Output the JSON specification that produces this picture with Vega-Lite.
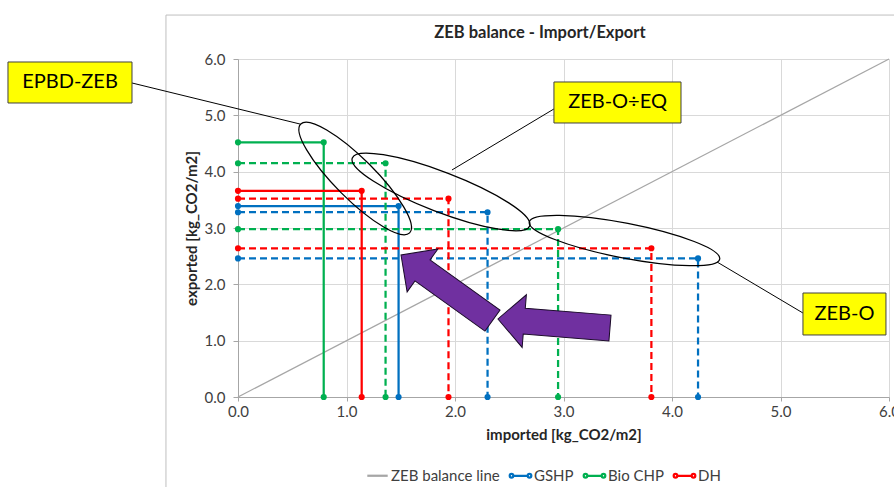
{
  "$schema": "https://vega.github.io/schema/vega-lite/v6.json",
  "width": 651,
  "height": 338,
  "autosize": {"type": "none"},
  "padding": {"left": 238, "top": 59, "right": 5, "bottom": 90},
  "background": "white",
  "datasets": {
    "series": [
      {"s": "GSHP", "c": "GSHP-1", "d": "solid", "o": 1, "x": 0, "y": 3.39},
      {"s": "GSHP", "c": "GSHP-1", "d": "solid", "o": 2, "x": 1.48, "y": 3.39},
      {"s": "GSHP", "c": "GSHP-1", "d": "solid", "o": 3, "x": 1.48, "y": 0},
      {"s": "GSHP", "c": "GSHP-2", "d": "dashed", "o": 1, "x": 0, "y": 3.28},
      {"s": "GSHP", "c": "GSHP-2", "d": "dashed", "o": 2, "x": 2.3, "y": 3.28},
      {"s": "GSHP", "c": "GSHP-2", "d": "dashed", "o": 3, "x": 2.3, "y": 0},
      {"s": "GSHP", "c": "GSHP-3", "d": "dashed", "o": 1, "x": 0, "y": 2.46},
      {"s": "GSHP", "c": "GSHP-3", "d": "dashed", "o": 2, "x": 4.24, "y": 2.46},
      {"s": "GSHP", "c": "GSHP-3", "d": "dashed", "o": 3, "x": 4.24, "y": 0},
      {"s": "Bio CHP", "c": "Bio-1", "d": "solid", "o": 1, "x": 0, "y": 4.52},
      {"s": "Bio CHP", "c": "Bio-1", "d": "solid", "o": 2, "x": 0.79, "y": 4.52},
      {"s": "Bio CHP", "c": "Bio-1", "d": "solid", "o": 3, "x": 0.79, "y": 0},
      {"s": "Bio CHP", "c": "Bio-2", "d": "dashed", "o": 1, "x": 0, "y": 4.15},
      {"s": "Bio CHP", "c": "Bio-2", "d": "dashed", "o": 2, "x": 1.36, "y": 4.15},
      {"s": "Bio CHP", "c": "Bio-2", "d": "dashed", "o": 3, "x": 1.36, "y": 0},
      {"s": "Bio CHP", "c": "Bio-3", "d": "dashed", "o": 1, "x": 0, "y": 2.98},
      {"s": "Bio CHP", "c": "Bio-3", "d": "dashed", "o": 2, "x": 2.95, "y": 2.98},
      {"s": "Bio CHP", "c": "Bio-3", "d": "dashed", "o": 3, "x": 2.95, "y": 0},
      {"s": "DH", "c": "DH-1", "d": "solid", "o": 1, "x": 0, "y": 3.66},
      {"s": "DH", "c": "DH-1", "d": "solid", "o": 2, "x": 1.14, "y": 3.66},
      {"s": "DH", "c": "DH-1", "d": "solid", "o": 3, "x": 1.14, "y": 0},
      {"s": "DH", "c": "DH-2", "d": "dashed", "o": 1, "x": 0, "y": 3.52},
      {"s": "DH", "c": "DH-2", "d": "dashed", "o": 2, "x": 1.94, "y": 3.52},
      {"s": "DH", "c": "DH-2", "d": "dashed", "o": 3, "x": 1.94, "y": 0},
      {"s": "DH", "c": "DH-3", "d": "dashed", "o": 1, "x": 0, "y": 2.64},
      {"s": "DH", "c": "DH-3", "d": "dashed", "o": 2, "x": 3.81, "y": 2.64},
      {"s": "DH", "c": "DH-3", "d": "dashed", "o": 3, "x": 3.81, "y": 0}
    ]
  },
  "encoding": {
    "x": {"field": "x", "type": "quantitative", "scale": {"domain": [0, 6], "nice": false, "zero": false},
      "axis": {"title": "imported [kg_CO2/m2]", "values": [0, 1, 2, 3, 4, 5, 6], "format": ".1f", "labelFlush": false, "grid": true, "gridColor": "#d9d9d9", "domainColor": "#a6a6a6", "tickColor": "#a6a6a6", "tickSize": 4, "labelPadding": 3, "labelFontSize": 15, "labelColor": "#404040", "labelFont": "Lato", "titleFont": "Lato", "titleFontSize": 15, "titleFontWeight": "bold", "titleColor": "#262626", "titlePadding": 8}},
    "y": {"field": "y", "type": "quantitative", "scale": {"domain": [0, 6], "nice": false, "zero": false},
      "axis": {"title": "exported [kg_CO2/m2]", "values": [0, 1, 2, 3, 4, 5, 6], "format": ".1f", "labelFlush": false, "grid": true, "gridColor": "#d9d9d9", "domainColor": "#a6a6a6", "tickColor": "#a6a6a6", "tickSize": 5, "labelPadding": 8, "labelFontSize": 15, "labelColor": "#404040", "labelFont": "Lato", "titleFont": "Lato", "titleFontSize": 15, "titleFontWeight": "bold", "titleColor": "#262626", "titlePadding": 5}}
  },
  "resolve": {"legend": {"color": "independent", "shape": "independent"}},
  "layer": [
    {
      "data": {"values": [{"x": -0.664, "x2": 7, "y": 6.78, "y2": -3}]},
      "mark": {"type": "rect", "filled": false, "color": "#bfbfbf", "strokeWidth": 1},
      "encoding": {"x2": {"field": "x2"}, "y2": {"field": "y2"}}
    },
    {
      "data": {"values": [{"t": "ZEB balance - Import/Export", "x": 2.783, "y": 6.46}]},
      "mark": {"type": "text", "font": "Lato", "fontSize": 16.5, "fontWeight": "bold", "color": "#262626", "align": "center", "baseline": "middle"},
      "encoding": {"text": {"field": "t"}}
    },
    {
      "data": {"values": [{"s": "ZEB balance line", "x": 0, "y": 0}, {"s": "ZEB balance line", "x": 6, "y": 6}]},
      "mark": {"type": "line", "color": "#a6a6a6", "strokeWidth": 1.25},
      "encoding": {}
    },
    {
      "data": {"name": "series"},
      "mark": {"type": "line", "strokeWidth": 2.25},
      "encoding": {
        "color": {"field": "s", "type": "nominal", "scale": {"domain": ["ZEB balance line", "GSHP", "Bio CHP", "DH"], "range": ["#a6a6a6", "#0070c0", "#00b050", "#ff0000"]}, "legend": null},
        "strokeDash": {"field": "d", "type": "nominal", "scale": {"domain": ["solid", "dashed"], "range": [[1, 0], [7, 4]]}, "legend": null},
        "detail": {"field": "c"},
        "order": {"field": "o"}
      }
    },
    {
      "data": {"name": "series"},
      "mark": {"type": "point", "filled": true, "size": 38, "opacity": 1},
      "encoding": {
        "color": {"field": "s", "type": "nominal", "legend": null}
      }
    },
    {
      "data": {"values": [{"s": "ZEB balance line", "x": -10, "y": -10}, {"s": "GSHP", "x": -10, "y": -10}, {"s": "Bio CHP", "x": -10, "y": -10}, {"s": "DH", "x": -10, "y": -10}]},
      "mark": {"type": "point", "filled": false, "opacity": 1, "clip": true, "strokeWidth": 2.25},
      "encoding": {
        "color": {"field": "s", "type": "nominal", "legend": {"title": null, "orient": "none", "legendX": 126, "legendY": 403, "direction": "horizontal", "symbolSize": 576, "labelFontSize": 15, "labelColor": "#404040", "labelFont": "Lato", "labelOffset": 0, "columnPadding": 5, "symbolStrokeWidth": 2.25,
          "encode": {"symbols": {"update": {"strokeWidth": {"signal": "datum.value === 'ZEB balance line' ? 1.25 : 2.25"}}}}}},
        "shape": {"field": "s", "type": "nominal", "scale": {"domain": ["ZEB balance line", "GSHP", "Bio CHP", "DH"], "range": ["M-0.85,0L0.85,0", "M-0.6,0L0.6,0M-0.9,0A0.15,0.15,0,1,0,-0.6,0A0.15,0.15,0,1,0,-0.9,0M0.6,0A0.15,0.15,0,1,0,0.9,0A0.15,0.15,0,1,0,0.6,0", "M-0.6,0L0.6,0M-0.9,0A0.15,0.15,0,1,0,-0.6,0A0.15,0.15,0,1,0,-0.9,0M0.6,0A0.15,0.15,0,1,0,0.9,0A0.15,0.15,0,1,0,0.6,0", "M-0.6,0L0.6,0M-0.9,0A0.15,0.15,0,1,0,-0.6,0A0.15,0.15,0,1,0,-0.9,0M0.6,0A0.15,0.15,0,1,0,0.9,0A0.15,0.15,0,1,0,0.6,0"]}, "legend": {"title": null}}
      }
    },
    {
      "data": {"values": [{"x": 1.08, "y": 3.88}]},
      "mark": {"type": "point", "shape": "M-1,0A1,0.26,0,1,0,1,0A1,0.26,0,1,0,-1,0Z", "size": 23716, "angle": 45, "filled": false, "color": "black", "strokeWidth": 1.25, "opacity": 1}
    },
    {
      "data": {"values": [{"x": 1.871, "y": 3.64}]},
      "mark": {"type": "point", "shape": "M-1,0A1,0.21,0,1,0,1,0A1,0.21,0,1,0,-1,0Z", "size": 36100, "angle": 21, "filled": false, "color": "black", "strokeWidth": 1.25, "opacity": 1}
    },
    {
      "data": {"values": [{"x": 3.562, "y": 2.778}]},
      "mark": {"type": "point", "shape": "M-1,0A1,0.18,0,1,0,1,0A1,0.18,0,1,0,-1,0Z", "size": 37636, "angle": 11, "filled": false, "color": "black", "strokeWidth": 1.25, "opacity": 1}
    },
    {
      "data": {"values": [
        {"x": -0.977, "y": 5.574, "x2": 0.571, "y2": 4.846},
        {"x": 2.912, "y": 5.113, "x2": 1.972, "y2": 4.03},
        {"x": 4.415, "y": 2.397, "x2": 5.207, "y2": 1.491}
      ]},
      "mark": {"type": "rule", "color": "black", "strokeWidth": 1},
      "encoding": {"x2": {"field": "x2"}, "y2": {"field": "y2"}}
    },
    {
      "data": {"values": [
        {"x": -2.12, "x2": -0.977, "y": 5.947, "y2": 5.219},
        {"x": 2.912, "x2": 4.083, "y": 5.592, "y2": 4.864},
        {"x": 5.207, "x2": 5.972, "y": 1.846, "y2": 1.101}
      ]},
      "mark": {"type": "rect", "fill": "#ffff00", "stroke": "#404040", "strokeWidth": 1},
      "encoding": {"x2": {"field": "x2"}, "y2": {"field": "y2"}}
    },
    {
      "data": {"values": [
        {"label": "EPBD-ZEB", "x": -1.548, "y": 5.583},
        {"label": "ZEB-O÷EQ", "x": 3.498, "y": 5.228},
        {"label": "ZEB-O", "x": 5.59, "y": 1.473}
      ]},
      "mark": {"type": "text", "font": "Lato", "fontSize": 20, "color": "black", "align": "center", "baseline": "middle"},
      "encoding": {"text": {"field": "label"}}
    },
    {
      "data": {"values": [{"x": 1.924, "y": 1.939}]},
      "mark": {"type": "point", "shape": "M1,0L0.53,-0.47L0.53,-0.23L-1,-0.23L-1,0.23L0.53,0.23L0.53,0.47Z", "size": 12656, "angle": 215.6, "filled": true, "fill": "#7030a0", "stroke": "#1a0a28", "strokeWidth": 1, "opacity": 1}
    },
    {
      "data": {"values": [{"x": 2.912, "y": 1.305}]},
      "mark": {"type": "point", "shape": "M1,0L0.53,-0.47L0.53,-0.23L-1,-0.23L-1,0.23L0.53,0.23L0.53,0.47Z", "size": 12634, "angle": 184.6, "filled": true, "fill": "#7030a0", "stroke": "#1a0a28", "strokeWidth": 1, "opacity": 1}
    }
  ],
  "config": {"view": {"stroke": null}, "font": "Lato"}
}
